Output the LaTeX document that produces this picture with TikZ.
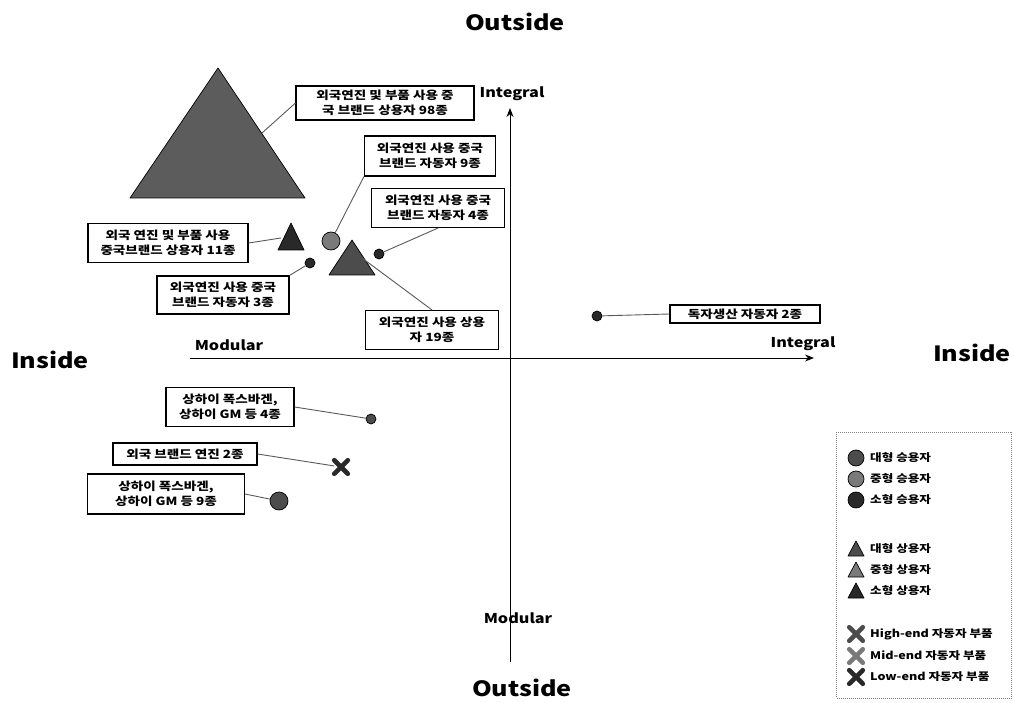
\documentclass[tikz,border=0pt]{standalone}
\usepackage{fontspec}
\setmainfont{Noto Sans CJK KR}[FakeStretch=1.2]
\usetikzlibrary{arrows.meta,shapes.misc}

\definecolor{markA}{gray}{0.30}
\definecolor{markB}{gray}{0.48}
\definecolor{markC}{gray}{0.16}
\definecolor{bigtri}{gray}{0.36}
\definecolor{leadc}{gray}{0.35}

\tikzset{
  lbl/.style={draw=black, line width=1.1pt, fill=white, align=center, inner sep=1pt,
    font=\bfseries\fontsize{11.3}{15.5}\selectfont},
  lead/.style={draw=leadc, line width=0.9pt},
  dot/.style={circle, draw=black, fill=#1, line width=0.7pt, inner sep=0pt},
  xmark/.style={cross out, draw=#1, line width=4.6pt, line cap=round, minimum size=9pt, inner sep=0pt},
  tri/.style={draw=black, line width=0.7pt, fill=#1, line join=round},
  axisline/.style={line width=1pt, -{Stealth[length=9pt,width=7pt]}},
  quad/.style={font=\bfseries\fontsize{21}{24}\selectfont},
  axlbl/.style={font=\bfseries\fontsize{13.5}{16}\selectfont},
  legtxt/.style={anchor=west, inner sep=0pt, font=\bfseries\fontsize{10.5}{12}\selectfont},
}

\begin{document}
\begin{tikzpicture}[x=1pt,y=-1pt]
\useasboundingbox (0,0) rectangle (1014,703);

% quadrant titles
\node[quad] (outtop) at (515,22) {Outside};
\node[quad] (outbot) at (522,688) {Outside};
\node[quad] (inleft) at (50,360) {Inside};
\node[quad] (inright) at (972,353) {Inside};

% axes
\coordinate (vbot) at (510,662);
\coordinate (vtop) at (510,108);
\coordinate (hleft) at (190,358);
\coordinate (hright) at (814,358);
\draw[axisline] (vbot) -- (vtop);
\draw[axisline] (hleft) -- (hright);
\node[axlbl] (intv) at (512,94) {Integral};
\node[axlbl] (modv) at (518,618) {Modular};
\node[axlbl] (modh) at (229,345) {Modular};
\node[axlbl] (inth) at (803,344) {Integral};

% triangle markers
\draw[tri=bigtri] (218,68) -- (305,198) -- (130,198) -- cycle;
\coordinate (bigT) at (262,133);
\draw[tri=markC] (291,223) -- (304,250) -- (278,250) -- cycle;
\coordinate (smT) at (281,238);
\draw[tri=markA] (352,240) -- (375,275) -- (329,275) -- cycle;
\coordinate (midT) at (362,258);

% circle markers
\node[dot=markB, minimum size=18pt] (c9) at (331,241) {};
\node[dot=markC, minimum size=10pt] (c3) at (310,263) {};
\node[dot=markC, minimum size=10pt] (c4) at (379,254) {};
\node[dot=markC, minimum size=10pt] (c2) at (597,316) {};
\node[dot=markA, minimum size=10pt] (c4b) at (371,419) {};
\node[dot=markA, minimum size=18pt] (c9b) at (279,501) {};
\node[xmark=markC] (x2) at (341,467) {};

% labels
\node[lbl, minimum width=178pt, minimum height=34pt] (l98) at (385,103)
  {외국연진 및 부품 사용 중\\국 브랜드 상용자 98종};
\node[lbl, minimum width=131pt, minimum height=40pt] (l9) at (430,156)
  {외국연진 사용 중국\\브랜드 자동자 9종};
\node[lbl, minimum width=133pt, minimum height=39pt] (l4) at (438,208)
  {외국연진 사용 중국\\브랜드 자동자 4종};
\node[lbl, minimum width=160pt, minimum height=39pt] (l11) at (168,243)
  {외국 연진 및 부품 사용\\중국브랜드 상용자 11종};
\node[lbl, minimum width=132pt, minimum height=38pt] (l3) at (223,295)
  {외국연진 사용 중국\\브랜드 자동자 3종};
\node[lbl, minimum width=133pt, minimum height=39pt] (l19) at (432,330)
  {외국연진 사용 상용\\자 19종};
\node[lbl, minimum width=150pt, minimum height=18pt] (lown) at (745,314)
  {독자생산 자동자 2종};
\node[lbl, minimum width=128pt, minimum height=39pt] (lsh4) at (230,407)
  {상하이 폭스바겐,\\상하이 GM 등 4종};
\node[lbl, minimum width=144pt, minimum height=22pt] (lfe) at (185,454)
  {외국 브랜드 연진 2종};
\node[lbl, minimum width=157pt, minimum height=40pt] (lsh9) at (166,494)
  {상하이 폭스바겐,\\상하이 GM 등 9종};

% leader lines
\draw[lead] (bigT) -- (l98.west);
\draw[lead] (c9) -- (l9.south west);
\draw[lead] (c4) -- (l4.south);
\draw[lead] (smT) -- (l11.east);
\draw[lead] (c3) -- (l3.north east);
\draw[lead] (midT) -- (l19.north);
\draw[lead] (c2) -- (lown.west);
\draw[lead] (c4b) -- (lsh4.east);
\draw[lead] (x2) -- (lfe.east);
\draw[lead] (c9b) -- (lsh9.east);

% legend
\node[draw=gray, densely dotted, line width=1pt, minimum width=175pt, minimum height=266pt] (legend) at (924,565) {};
\node[dot=markA, minimum size=16pt] (lg1) at (856,458) {};
\node[dot=markB, minimum size=16pt] (lg2) at (856,479) {};
\node[dot=markC, minimum size=16pt] (lg3) at (856,500) {};
\node[legtxt] (lt1) at (870,458) {대형 승용자};
\node[legtxt] (lt2) at (870,479) {중형 승용자};
\node[legtxt] (lt3) at (870,500) {소형 승용자};
\draw[tri=markA] (856,541) -- (864,556) -- (848,556) -- cycle;
\draw[tri=markB] (856,562) -- (864,577) -- (848,577) -- cycle;
\draw[tri=markC] (856,583) -- (864,598) -- (848,598) -- cycle;
\node[legtxt] (lt4) at (870,549) {대형 상용자};
\node[legtxt] (lt5) at (870,570) {중형 상용자};
\node[legtxt] (lt6) at (870,591) {소형 상용자};
\node[xmark=markA] (lx1) at (856,634) {};
\node[xmark=markB] (lx2) at (856,656) {};
\node[xmark=markC] (lx3) at (856,677) {};
\node[legtxt] (lt7) at (870,634) {High-end 자동자 부품};
\node[legtxt] (lt8) at (870,656) {Mid-end 자동자 부품};
\node[legtxt] (lt9) at (870,677) {Low-end 자동자 부품};
\end{tikzpicture}
\end{document}
